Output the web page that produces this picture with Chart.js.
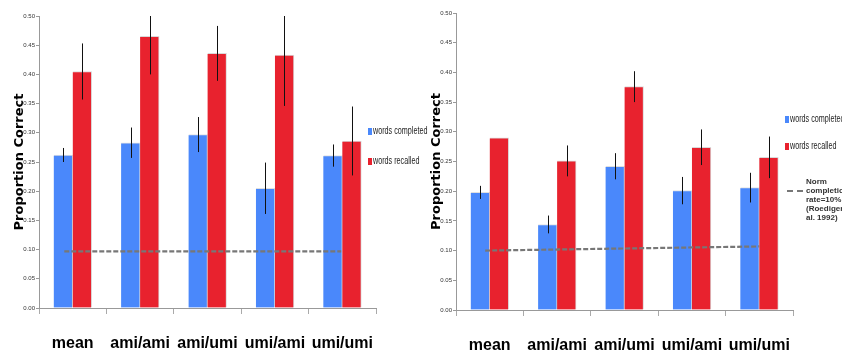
<!DOCTYPE html>
<html>
<head>
<meta charset="utf-8">
<script src="https://cdn.jsdelivr.net/npm/chart.js@4"></script>
<style>
  html, body { margin: 0; padding: 0; background: #fff; overflow: hidden; }
  #wrap { position: relative; width: 842px; height: 351px; overflow: hidden; }
  .panel { position: absolute; top: 0; height: 351px; }
  .legend { position: absolute; font-family: "Liberation Sans", sans-serif; font-size: 10px; color: #222; white-space: nowrap; }
  .legend .item { position: absolute; left: 0; height: 10px; line-height: 10px; }
  .legend .box { display: inline-block; width: 4px; height: 7px; margin-right: 1px; vertical-align: -1px; }
  .legend .txt { display: inline-block; transform: scaleX(0.72); transform-origin: left center; }
  .norm { position: absolute; font-family: "Liberation Sans", sans-serif; font-weight: bold; font-size: 8px; line-height: 9px; color: #333; white-space: nowrap; }
  .norm .dash { position: absolute; left: -19px; top: 13px; width: 16px; border-top: 2px dashed #777; }
</style>
</head>
<body>
<div id="wrap">
  <div class="panel" style="left:0;width:393px"><canvas id="leftChart"></canvas></div>
  <div class="panel" style="left:420px;width:390px"><canvas id="rightChart"></canvas></div>
  <div class="legend" id="leftLegend" style="left:368px;top:126px"></div>
  <div class="legend" id="rightLegend" style="left:785px;top:114px"></div>
  <div class="norm" style="left:806px;top:177px">
    <span class="dash"></span>Norm<br>completion<br>rate=10%<br>(Roediger et<br>al. 1992)
  </div>
</div>
<script>
// categories and series
var categories = ['mean', 'ami/ami', 'ami/umi', 'umi/ami', 'umi/umi'];
var seriesNames = ['words completed', 'words recalled'];
var seriesColors = ['#4a88fb', '#e8222e'];

var leftCompleted = [0.262, 0.283, 0.297, 0.205, 0.261];
var leftCompletedErr = [0.012, 0.026, 0.030, 0.044, 0.019];
var leftRecalled = [0.405, 0.465, 0.436, 0.433, 0.286];
var leftRecalledErr = [0.048, 0.065, 0.047, 0.087, 0.059];
var leftNormX = [-0.55, 4.38];
var leftNorm = [0.097, 0.097];

var rightCompleted = [0.198, 0.144, 0.242, 0.201, 0.206];
var rightCompletedErr = [0.011, 0.015, 0.022, 0.023, 0.025];
var rightRecalled = [0.290, 0.251, 0.376, 0.274, 0.257];
var rightRecalledErr = [0, 0.026, 0.026, 0.030, 0.035];
var rightNormX = [-0.48, 4.40];
var rightNorm = [0.100, 0.107];

var yTicks = [0, 0.05, 0.10, 0.15, 0.20, 0.25, 0.30, 0.35, 0.40, 0.45, 0.50];

// error bars: plain black lines, no caps
var errorBars = {
    id: 'errorBars',
    afterDatasetsDraw: function(chart) {
        var ctx = chart.ctx;
        var area = chart.chartArea;
        var yScale = chart.scales.y;
        ctx.save();
        ctx.beginPath();
        ctx.rect(area.left, area.top, area.right - area.left, area.bottom - area.top);
        ctx.clip();
        ctx.strokeStyle = '#111';
        ctx.lineWidth = 1;
        chart.data.datasets.forEach(function(ds, i) {
            if (!ds.errors) return;
            var meta = chart.getDatasetMeta(i);
            meta.data.forEach(function(bar, j) {
                var e = ds.errors[j];
                if (!e) return;
                var x = Math.round(bar.x) + 0.5;
                ctx.beginPath();
                ctx.moveTo(x, yScale.getPixelForValue(ds.data[j] + e));
                ctx.lineTo(x, yScale.getPixelForValue(ds.data[j] - e));
                ctx.stroke();
            });
        });
        ctx.restore();
    }
};

function makeChart(id, completed, completedErr, recalled, recalledErr, normX, norm, p) {
    var ctx = document.getElementById(id).getContext('2d');
    return new Chart(ctx, {
        type: 'bar',
        data: {
            labels: categories,
            datasets: [{
                type: 'line',
                label: 'norm',
                data: normX.map(function(x, k) { return {x: x, y: norm[k]}; }),
                xAxisID: 'x2',
                borderColor: '#777',
                borderWidth: 2.2,
                borderDash: [5, 2],
                pointRadius: 0,
                fill: false,
                clip: false
            }, {
                label: seriesNames[0],
                data: completed,
                errors: completedErr,
                backgroundColor: seriesColors[0],
                borderColor: 'rgba(0,0,0,0.12)',
                borderWidth: {top: 1, right: 1, left: 0, bottom: 0},
                barThickness: 19
            }, {
                label: seriesNames[1],
                data: recalled,
                errors: recalledErr,
                backgroundColor: seriesColors[1],
                borderColor: 'rgba(0,0,0,0.15)',
                borderWidth: {top: 1, right: 1, left: 0, bottom: 0},
                barThickness: 19
            }]
        },
        options: {
            responsive: true,
            maintainAspectRatio: false,
            animation: false,
            layout: { padding: { top: p.top, right: 0, bottom: 0, left: 0 } },
            plugins: { legend: { display: false }, tooltip: { enabled: false } },
            scales: {
                x: {
                    offset: true,
                    afterFit: function(scale) { scale.height = p.xHeight; },
                    grid: { offset: true, drawOnChartArea: false, drawTicks: true, tickLength: 6, color: '#aaa' },
                    border: { color: '#999' },
                    ticks: {
                        padding: 20,
                        autoSkip: false,
                        maxRotation: 0,
                        minRotation: 0,
                        color: '#000',
                        font: { family: 'Liberation Sans', weight: 'bold', size: 16 }
                    }
                },
                x2: {
                    type: 'linear',
                    display: false,
                    min: -0.5,
                    max: 4.5
                },
                y: {
                    min: 0,
                    max: 0.5,
                    afterBuildTicks: function(scale) {
                        scale.ticks = yTicks.map(function(v) { return {value: v}; });
                    },
                    afterFit: function(scale) { scale.width = p.yWidth; },
                    grid: { drawOnChartArea: false, tickLength: 3, color: '#999' },
                    border: { color: '#999' },
                    ticks: {
                        padding: 1,
                        color: '#333',
                        font: { family: 'Liberation Sans', size: 6 },
                        callback: function(v) { return v.toFixed(2); }
                    },
                    title: {
                        display: true,
                        text: 'Proportion Correct',
                        color: '#000',
                        padding: { top: p.titlePad, bottom: 0 },
                        font: { family: 'DejaVu Sans', weight: 'bold', size: 13 }
                    }
                }
            }
        },
        plugins: [errorBars]
    });
}

function fillLegend(id, gap) {
    var el = document.getElementById(id);
    seriesNames.forEach(function(name, k) {
        var item = document.createElement('div');
        item.className = 'item';
        item.style.top = (k * gap) + 'px';
        var box = document.createElement('span');
        box.className = 'box';
        box.style.background = seriesColors[k];
        var txt = document.createElement('span');
        txt.className = 'txt';
        txt.textContent = name;
        item.appendChild(box);
        item.appendChild(txt);
        el.appendChild(item);
    });
}

makeChart('leftChart', leftCompleted, leftCompletedErr, leftRecalled, leftRecalledErr, leftNormX, leftNorm,
    {yWidth: 39, top: 16, xHeight: 43, titlePad: 12});
makeChart('rightChart', rightCompleted, rightCompletedErr, rightRecalled, rightRecalledErr, rightNormX, rightNorm,
    {yWidth: 36, top: 13, xHeight: 41, titlePad: 9});
fillLegend('leftLegend', 30);
fillLegend('rightLegend', 27);
</script>
</body>
</html>
